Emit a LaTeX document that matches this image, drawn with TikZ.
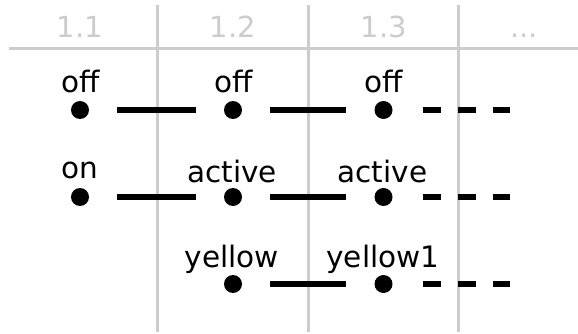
\documentclass[tikz,border=0pt]{standalone}
\usepackage{fontspec}
\setmainfont{DejaVu Sans}
\definecolor{gridgrey}{HTML}{CCCCCC}
\begin{document}
\begin{tikzpicture}[x=1pt,y=-1pt,
  gridline/.style={draw=gridgrey,line width=3pt},
  colhead/.style={text=gridgrey,anchor=base,inner sep=0pt,font=\fontsize{29}{34}\selectfont},
  state/.style={circle,fill=black,minimum size=18pt,inner sep=0pt},
  statelabel/.style={anchor=base,inner sep=0pt,font=\fontsize{29.5}{35}\selectfont},
  link/.style={line width=6.5pt,shorten <=28pt,shorten >=28pt},
  future/.style={line width=6.5pt,dash pattern=on 18pt off 17pt,shorten <=30pt}]
\useasboundingbox (0,0) rectangle (578,334);

% timeline grid
\coordinate (hl) at (9,49);
\coordinate (hr) at (578,49);
\draw[gridline] (hl) -- (hr);
\foreach \x [count=\i] in {157,308,458}{
  \coordinate (vt\i) at (\x,5);
  \coordinate (vb\i) at (\x,332);
  \draw[gridline] (vt\i) -- (vb\i);
}
\node[colhead] (h1) at (80,38) {1.1};
\node[colhead] (h2) at (233,38) {1.2};
\node[colhead] (h3) at (384,38) {1.3};
\node[colhead] (h4) at (524,38) {...};

% state dots
\node[state] (a1) at (80,110) {};
\node[state] (a2) at (233,110) {};
\node[state] (a3) at (383.5,110) {};
\node[state] (b1) at (80,197) {};
\node[state] (b2) at (233,197) {};
\node[state] (b3) at (383.5,197) {};
\node[state] (c2) at (233,284) {};
\node[state] (c3) at (383.5,284) {};
\coordinate (aend) at (510,110);
\coordinate (bend) at (510,197);
\coordinate (cend) at (510,284);

% state names
\node[statelabel] (la1) at (81,93) {off};
\node[statelabel] (la2) at (234,93) {off};
\node[statelabel] (la3) at (384,93) {off};
\node[statelabel] (lb1) at (80,178) {on};
\node[statelabel] (lb2) at (232,182) {active};
\node[statelabel] (lb3) at (382.5,182) {active};
\node[statelabel] (lc2) at (232,267) {yellow};
\node[statelabel] (lc3) at (383,267) {yellow1};

% transitions
\draw[link] (a1) -- (a2);
\draw[link] (a2) -- (a3);
\draw[future] (a3) -- (aend);
\draw[link] (b1) -- (b2);
\draw[link] (b2) -- (b3);
\draw[future] (b3) -- (bend);
\draw[link] (c2) -- (c3);
\draw[future] (c3) -- (cend);
\end{tikzpicture}
\end{document}
